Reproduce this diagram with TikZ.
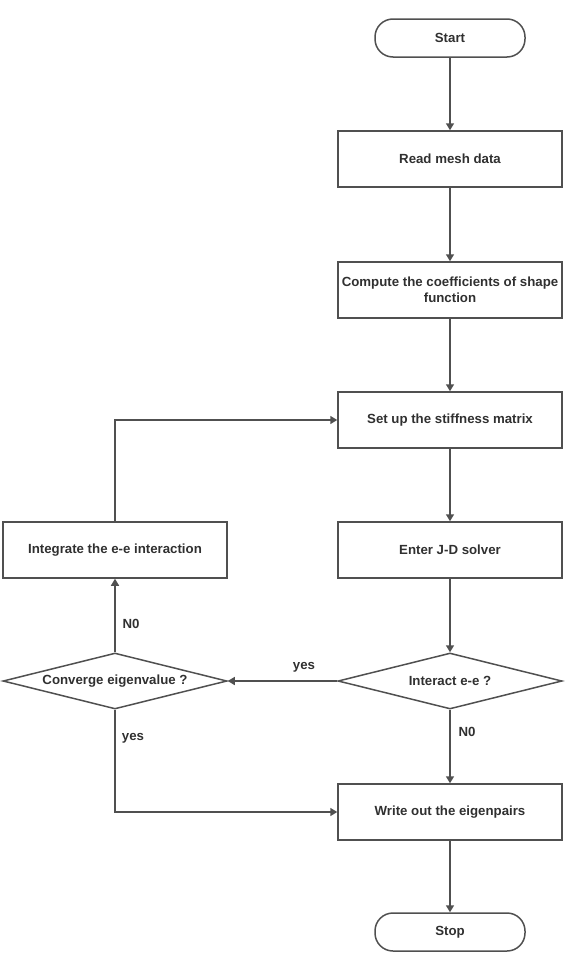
\documentclass[tikz,border=0pt]{standalone}
\usepackage{fontspec}
\setmainfont{Liberation Sans}
\usetikzlibrary{shapes.geometric,arrows.meta}
\definecolor{linec}{HTML}{505050}
\definecolor{textc}{HTML}{303030}
\begin{document}
\begin{tikzpicture}[x=1bp,y=-1bp,
  every node/.style={font=\fontsize{13.3}{16}\selectfont\bfseries, text=textc},
  procbox/.style={draw=linec, line width=1.5bp, rectangle, minimum width=224bp, minimum height=56bp, inner sep=1bp, align=center},
  termbox/.style={draw=linec, line width=1.5bp, rectangle, rounded corners=18bp, minimum width=150bp, minimum height=38bp, inner sep=0pt},
  decbox/.style={draw=linec, line width=1.5bp, diamond, aspect=4, minimum width=224bp, minimum height=56bp, inner sep=0pt},
  conn/.style={draw=linec, line width=1.5bp, -{Triangle[width=8bp,length=7bp]}},
  lbl/.style={inner sep=0pt}
]
\useasboundingbox (0,0) rectangle (573,957);
\node[termbox] (start) at (450,38) {Start};
\node[procbox] (read) at (450,159) {Read mesh data};
\node[procbox] (comp) at (450,290) {Compute the coefficients of shape\\function};
\node[procbox] (setup) at (450,420) {Set up the stiffness matrix};
\node[procbox] (enter) at (450,550) {Enter J-D solver};
\node[procbox] (integ) at (115,550) {Integrate the e-e interaction};
\node[decbox] (inter) at (450,681) {Interact e-e ?};
\node[decbox] (conv) at (115,681) {Converge eigenvalue ?};
\node[procbox] (write) at (450,812) {Write out the eigenpairs};
\node[termbox] (stop) at (450,932) {Stop};
\coordinate (c1) at (115,420);
\coordinate (c2) at (115,812);

\draw[conn] (start) -- (read);
\draw[conn] (read) -- (comp);
\draw[conn] (comp) -- (setup);
\draw[conn] (setup) -- (enter);
\draw[conn] (enter) -- (inter);
\draw[conn] (inter.west) -- (conv.east);
\draw[conn] (conv.north) -- (integ.south);
\draw[conn] (integ.north) -- (c1) -- (setup.west);
\draw[conn] (conv.south) -- (c2) -- (write.west);
\draw[conn] (inter.south) -- (write.north);
\draw[conn] (write) -- (stop);

\node[lbl] (lyes1) at (304,667) {yes};
\node[lbl] (lno1) at (131,624) {N0};
\node[lbl] (lyes2) at (133,738) {yes};
\node[lbl] (lno2) at (467,732) {N0};
\end{tikzpicture}
\end{document}
